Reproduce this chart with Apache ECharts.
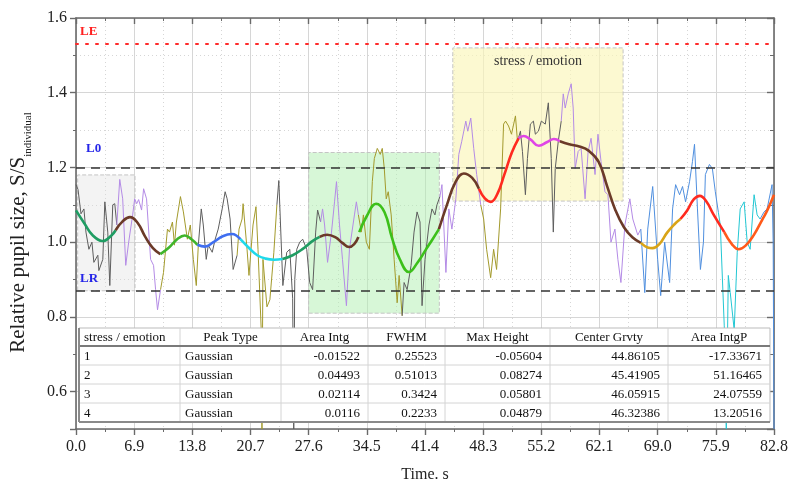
<!DOCTYPE html>
<html>
<head>
<meta charset="utf-8">
<script src="https://cdn.jsdelivr.net/npm/echarts@6/dist/echarts.min.js"></script>
<style>
html,body{margin:0;padding:0;background:#fff;}
#chart{width:791px;height:488px;}
</style>
</head>
<body>
<div id="chart"></div>
<script>
// ---------- DATA ----------
const xTickLabels = ['0.0','6.9','13.8','20.7','27.6','34.5','41.4','48.3','55.2','62.1','69.0','75.9','82.8'];
const levelLE = 1.53, levelL0 = 1.2, levelLR = 0.87;
// shaded zones: [tStart, tEnd, vLow, vHigh]
const zoneRest = [0.2, 7.0, 0.87, 1.18];
const zoneGreen = [27.6, 43.1, 0.81, 1.24];
const zoneStress = [44.7, 64.9, 1.11, 1.52];
const zoneStressLabel = 'stress / emotion';

// raw pupil signal, coloured pieces [time s, relative size]
const sigGreyA = [[0,1.154],[0.24,1.141],[0.59,1.076],[0.94,1.089],[1.18,1.027],[1.53,0.981],[1.89,1.0],[2.12,0.946],[2.59,0.965],[2.71,0.924],[3.18,0.954],[3.42,1.108],[3.77,1.027],[4.01,0.884],[4.36,1.1],[4.6,1.103],[4.84,1.046]];
const sigPurpleA = [[4.84,1.046],[5.19,1.168],[5.54,1.116],[5.9,0.938],[6.25,1.0],[6.72,1.073],[6.96,1.116],[7.2,1.103],[7.43,1.114],[7.78,1.086],[8.02,1.143],[8.37,1.116],[8.85,0.954],[9.2,0.938],[9.44,0.873],[9.67,0.819],[10.03,0.873]];
const sigOliveA = [[10.03,0.873],[10.38,0.919],[10.85,1.035],[11.09,1.027],[11.44,1.054],[11.68,0.992],[11.91,1.054],[12.39,1.122],[12.74,1.081],[13.21,1.008],[13.56,1.046],[13.92,0.954],[14.27,0.884],[14.51,0.992]];
const sigGreyB = [[14.51,0.992],[14.86,1.089],[15.1,1.046],[15.45,0.954],[15.69,0.992],[16.16,0.973],[16.51,1.008],[16.87,1.035],[17.34,1.089],[17.69,1.135],[17.93,1.116],[18.28,1.062],[18.64,0.927],[19.11,0.965]];
const sigOliveB = [[19.11,0.965],[19.34,1.035],[19.7,1.062],[19.82,1.103],[20.29,0.981],[20.52,0.911],[21.0,1.046],[21.35,1.095],[21.59,0.981],[22.0,0.75],[22.06,0.5],[22.18,0.954],[22.65,0.827],[23.0,0.846],[23.47,0.973],[23.83,1.1]];
const sigGreyC = [[23.83,1.1],[24.06,1.165],[24.54,0.884],[25.0,0.973],[25.36,0.981],[25.7,0.85],[25.83,0.5],[25.95,0.9],[26.19,0.981],[26.54,1.0],[26.89,1.008],[27.37,0.981],[27.72,0.892],[28.07,0.873],[28.43,1.027],[28.66,1.086],[29.02,1.054]];
const sigPurpleB = [[29.02,1.054],[29.25,1.089],[29.49,1.046],[29.84,0.946],[30.31,1.027],[30.67,1.108],[30.9,1.162],[31.26,1.046],[31.61,0.954],[32.08,0.83],[32.44,0.981],[33.03,1.073],[33.26,1.108],[33.5,1.073]];
const sigOliveC = [[33.5,1.073],[33.85,1.027],[34.09,1.073],[34.44,1.0],[34.8,0.981],[35.15,1.162],[35.39,1.224],[35.74,1.251],[36.09,1.235],[36.33,1.251],[36.57,1.197],[36.8,1.116],[37.04,1.135],[37.39,1.073],[37.74,0.954],[38.1,0.838],[38.33,0.911],[38.69,0.803]];
const sigGreyD = [[38.69,0.803],[38.92,0.892],[39.28,0.873],[39.75,0.938],[40.1,1.027],[40.46,1.081],[40.81,1.054],[41.05,0.83],[41.4,0.954],[41.87,1.046],[42.23,1.089],[42.58,1.073],[42.82,1.1],[43.17,1.122]];
const sigPurpleC = [[43.17,1.122],[43.41,1.154],[43.88,0.919],[44.23,1.089],[44.59,1.035],[45.06,1.116],[45.41,1.235],[45.76,1.27],[46.24,1.324],[46.47,1.297],[46.83,1.332],[47.18,1.251],[47.53,1.181],[48.01,1.1]];
const sigOliveD = [[48.01,1.1],[48.36,1.062],[48.71,0.981],[49.19,0.905],[49.54,0.981],[49.89,0.927],[50.37,1.089],[50.72,1.316],[50.96,1.324],[51.31,1.311],[51.66,1.289],[52.13,1.338],[52.37,1.27]];
const sigGreyE = [[52.37,1.27],[52.72,1.297],[52.96,1.243],[53.31,1.127],[53.55,1.224],[53.9,1.316],[54.26,1.324],[54.49,1.289],[54.85,1.297],[55.2,1.324],[55.67,1.316],[56.03,1.373],[56.38,1.224],[56.62,1.027],[56.85,1.197],[57.21,1.27],[57.56,1.324]];
const sigPurpleD = [[57.56,1.324],[57.8,1.397],[58.03,1.359],[58.39,1.397],[58.74,1.424],[58.98,1.359],[59.21,1.197],[59.57,1.243],[59.92,1.251],[60.39,1.116],[60.75,1.243],[61.1,1.278],[61.57,1.181],[61.92,1.289],[62.28,1.216],[62.75,1.135],[63.1,1.127],[63.46,1.0],[63.93,1.035],[64.28,0.954],[64.64,0.892],[65.11,1.046],[65.7,1.116],[66.05,1.062],[66.64,1.019],[67.0,1.035]];
const sigBlueA = [[67.0,1.035],[67.47,0.865],[67.82,1.035],[68.41,1.149],[69.0,0.954],[69.36,0.857],[69.83,1.0],[70.42,0.892],[70.77,1.089],[71.13,1.154],[71.6,1.127],[71.95,1.149],[72.31,1.108],[72.78,1.162],[73.13,1.216],[73.37,1.262],[73.72,1.089],[74.07,0.927],[74.43,1.0],[74.66,1.181],[75.14,1.208],[75.49,1.197],[75.84,1.135],[76.2,1.08]];
const sigCyanA = [[76.2,1.08],[76.43,1.046],[76.9,0.776],[77.14,0.5],[77.38,0.911],[77.61,0.865],[78.08,0.765],[78.44,0.973],[78.79,1.089],[79.26,1.108],[79.62,1.0],[79.97,0.981],[80.44,1.127],[80.8,1.073],[81.15,1.062]];
const sigBlueB = [[81.15,1.062],[81.62,1.081],[81.98,1.089],[82.57,1.154],[82.7,1.0],[82.8,0.5]];

// fitted smooth curve, coloured pieces
const fitGreenA = [[0,1.085],[1,1.05],[2,1.018],[3.2,1.003],[4.2,1.018],[4.7,1.032]];
const fitBrownA = [[4.7,1.032],[5.5,1.055],[6.4,1.067],[7.3,1.052],[8.2,1.015],[9.1,0.985],[10.0,0.968]];
const fitGreenB = [[10.0,0.968],[11,0.985],[12,1.008],[12.9,1.018],[13.7,1.008],[14.4,0.993]];
const fitBlueA = [[14.4,0.993],[15.3,0.988],[16.3,1.0],[17.4,1.016],[18.5,1.022],[19.5,1.008]];
const fitCyanA = [[19.5,1.008],[20.5,0.985],[21.5,0.965],[22.5,0.956],[23.5,0.953],[24.5,0.955]];
const fitGreenC = [[24.5,0.955],[25.7,0.965],[26.9,0.982],[28,1.002],[28.9,1.014]];
const fitBrownB = [[28.9,1.014],[29.8,1.02],[30.8,1.013],[31.6,0.998],[32.4,0.987],[33.0,0.995],[33.5,1.014]];
const fitGreenD = [[33.6,1.027],[34.5,1.07],[35.6,1.103],[36.6,1.08],[37.5,1.01],[38.4,0.955],[39.5,0.92],[40.5,0.945],[41.5,0.98],[42.3,1.008],[43.05,1.035]];
const fitBrownC = [[43.05,1.035],[44,1.1],[45,1.16],[46,1.184],[47,1.172],[47.8,1.143]];
const fitRedA = [[47.8,1.143],[48.5,1.117],[49.2,1.108],[50,1.13],[50.8,1.18],[51.7,1.24],[52.5,1.278]];
const fitMagentaA = [[52.5,1.278],[53.1,1.284],[53.9,1.275],[54.9,1.258],[55.9,1.268],[56.7,1.276],[57.4,1.27]];
const fitBrownD = [[57.4,1.27],[58.5,1.262],[59.7,1.256],[60.8,1.245],[62.0,1.215],[63.0,1.15],[64.0,1.085],[65.0,1.04],[66.0,1.013],[67.0,0.998]];
const fitGoldA = [[67.0,0.998],[67.8,0.986],[68.4,0.984],[69.2,0.995],[70.1,1.025],[71.0,1.048],[71.7,1.062]];
const fitRedB = [[71.7,1.062],[72.5,1.085],[73.3,1.115],[74.0,1.124],[74.8,1.108],[75.6,1.075],[76.9,1.027]];
const fitOrangeA = [[76.9,1.027],[77.8,0.995],[78.6,0.981],[79.4,0.99],[80.4,1.019],[81.4,1.06],[82.0,1.085],[82.8,1.127]];

// table
const tableHeader = ['stress / emotion','Peak Type','Area Intg','FWHM','Max Height','Center Grvty','Area IntgP'];
const rowIds = ['1','2','3','4'];
const peakTypes = ['Gaussian','Gaussian','Gaussian','Gaussian'];
const areaIntg = ['-0.01522','0.04493','0.02114','0.0116'];
const fwhm = ['0.25523','0.51013','0.3424','0.2233'];
const maxHeight = ['-0.05604','0.08274','0.05801','0.04879'];
const centerGrvty = ['44.86105','45.41905','46.05915','46.32386'];
const areaIntgP = ['-17.33671','51.16465','24.07559','13.20516'];

// ---------- STYLE ----------
const SERIF = '"Liberation Serif", "DejaVu Serif", serif';
const C = {
  sGrey:'#5e5e5e', sPurple:'#b48be6', sOlive:'#a39a2c', sBlue:'#4f8fdf', sCyan:'#22c7d3',
  fTeal:'#1f9d63', fBrown:'#6b3a28', fGreen:'#3fb52b', fBlue:'#3f6ef0', fCyan:'#1fd9ea',
  fLime:'#3cc01a', fRed:'#ff2a1f', fMag:'#e046e6', fGold:'#d9a418', fOrange:'#ff5a1a'
};

const signalPieces = [
  [sigGreyA,C.sGrey],[sigPurpleA,C.sPurple],[sigOliveA,C.sOlive],[sigGreyB,C.sGrey],
  [sigOliveB,C.sOlive],[sigGreyC,C.sGrey],[sigPurpleB,C.sPurple],[sigOliveC,C.sOlive],
  [sigGreyD,C.sGrey],[sigPurpleC,C.sPurple],[sigOliveD,C.sOlive],[sigGreyE,C.sGrey],
  [sigPurpleD,C.sPurple],[sigBlueA,C.sBlue],[sigCyanA,C.sCyan],[sigBlueB,C.sBlue]
];
const fitPieces = [
  [fitGreenA,C.fTeal],[fitBrownA,C.fBrown],[fitGreenB,C.fGreen],[fitBlueA,C.fBlue],
  [fitCyanA,C.fCyan],[fitGreenC,C.fTeal],[fitBrownB,C.fBrown],[fitGreenD,C.fLime],
  [fitBrownC,C.fBrown],[fitRedA,C.fRed],[fitMagentaA,C.fMag],[fitBrownD,C.fBrown],
  [fitGoldA,C.fGold],[fitRedB,C.fRed],[fitOrangeA,C.fOrange]
];

const series = [];
function zoneItem(z, color, label){
  return [{xAxis:z[0], yAxis:z[2], itemStyle:{color:color, borderColor:'#c4c4c4', borderType:'dashed', borderWidth:1},
           label: label ? {show:true, formatter:label, position:'insideTop', distance:7, fontFamily:SERIF, fontSize:14, color:'#333'} : {show:false}},
          {xAxis:z[1], yAxis:z[3]}];
}
series.push({
  type:'line', data:[], z:1, silent:true,
  markArea:{silent:true, data:[
    zoneItem(zoneRest,'rgba(220,220,220,0.35)'),
    zoneItem(zoneGreen,'rgba(175,240,175,0.5)'),
    zoneItem(zoneStress,'rgba(250,246,185,0.65)', zoneStressLabel)
  ]},
  markLine:{silent:true, symbol:['none','none'], data:[
    {yAxis:levelLE, lineStyle:{color:'#ff2a2a', type:[2,8], width:2, cap:'round'},
     label:{formatter:'LE', position:'insideStartTop', distance:4, padding:[0,0,2,0], color:'#ff2020', fontWeight:'bold', fontFamily:SERIF, fontSize:13}},
    {yAxis:levelL0, lineStyle:{color:'#333', type:[9,6], width:1.6},
     label:{formatter:'L0', position:'insideStartTop', distance:6, padding:[0,0,6,4], color:'#2424e8', fontWeight:'bold', fontFamily:SERIF, fontSize:13}},
    {yAxis:levelLR, lineStyle:{color:'#333', type:[9,6], width:1.6},
     label:{formatter:'LR', position:'insideStartTop', distance:4, padding:[0,0,2,0], color:'#2424e8', fontWeight:'bold', fontFamily:SERIF, fontSize:13}}
  ]}
});
signalPieces.forEach(p => series.push({
  type:'line', data:p[0], showSymbol:false, z:3, silent:true,
  lineStyle:{color:p[1], width:1}
}));
fitPieces.forEach(p => series.push({
  type:'line', data:p[0], showSymbol:false, smooth:0.45, z:5, silent:true,
  lineStyle:{color:p[1], width:2.6}
}));

// table graphic (drawn on a higher layer, above the plot)
function buildTable(){
  const edges = [79,180,281,368,445,550,668,770];
  const top = 328, headH = 18, rowH = 19;
  const cols = [rowIds, peakTypes, areaIntg, fwhm, maxHeight, centerGrvty, areaIntgP];
  const bottom = top + headH + rowH*rowIds.length;
  const left = edges[0], right = edges[edges.length-1];
  const font = '13px ' + SERIF;
  const ch = [];
  const Z = {zlevel:1, z:100};
  ch.push(Object.assign({type:'rect', shape:{x:left, y:top, width:right-left, height:bottom-top}, style:{fill:'#fff', stroke:'#bbb', lineWidth:1}}, Z));
  for (let r = 1; r < rowIds.length; r++){
    const y = top + headH + rowH*r;
    ch.push(Object.assign({type:'line', shape:{x1:left, y1:y, x2:right, y2:y}, style:{stroke:'#d4d4d4', lineWidth:1}}, Z, {z:101}));
  }
  for (let c = 1; c < edges.length-1; c++){
    ch.push(Object.assign({type:'line', shape:{x1:edges[c], y1:top, x2:edges[c], y2:bottom}, style:{stroke:'#d4d4d4', lineWidth:1}}, Z, {z:101}));
  }
  ch.push(Object.assign({type:'line', shape:{x1:left, y1:top+headH, x2:right, y2:top+headH}, style:{stroke:'#7a7a7a', lineWidth:2}}, Z, {z:102}));
  ch.push(Object.assign({type:'line', shape:{x1:left, y1:top, x2:left, y2:bottom}, style:{stroke:'#8a8a8a', lineWidth:2}}, Z, {z:102}));
  ch.push(Object.assign({type:'line', shape:{x1:left, y1:bottom, x2:right, y2:bottom}, style:{stroke:'#8a8a8a', lineWidth:2}}, Z, {z:102}));
  tableHeader.forEach((h, c) => {
    const cx = c === 0 ? edges[0] + 5 : (edges[c] + edges[c+1]) / 2;
    ch.push(Object.assign({type:'text', style:{text:h, x:cx, y:top+headH/2+1, font:font, fill:'#111', align:c===0?'left':'center', verticalAlign:'middle'}}, Z, {z:103}));
  });
  cols.forEach((col, c) => {
    col.forEach((val, r) => {
      const y = top + headH + rowH*r + rowH/2 + 1;
      const isLeft = c < 2;
      ch.push(Object.assign({type:'text', style:{text:val, x:isLeft ? edges[c]+5 : edges[c+1]-8, y:y, font:font, fill:'#111', align:isLeft?'left':'right', verticalAlign:'middle'}}, Z, {z:103}));
    });
  });
  return ch;
}

const axisColor = '#6a6a6a';
const option = {
  animation:false,
  backgroundColor:'#fff',
  grid:{left:73, right:14, top:18, bottom:59, containLabel:false},
  xAxis:[{
    type:'value', min:0, max:82.8, interval:6.9, position:'bottom',
    axisLine:{show:true, onZero:false, lineStyle:{color:axisColor, width:1.6}},
    axisTick:{show:true, length:6, lineStyle:{color:axisColor, width:1.4}},
    minorTick:{show:true, splitNumber:2, length:3, lineStyle:{color:axisColor}},
    axisLabel:{formatter:(v)=>xTickLabels[Math.round(v/6.9)], fontFamily:SERIF, fontSize:16, color:'#222', margin:10},
    splitLine:{show:true, lineStyle:{color:'#d6d6d6', width:1}},
    name:'Time. s', nameLocation:'middle', nameGap:38,
    nameTextStyle:{fontFamily:SERIF, fontSize:16, color:'#222'}
  },{
    type:'value', min:0, max:82.8, interval:6.9, position:'top',
    axisLine:{show:true, onZero:false, lineStyle:{color:axisColor, width:1.6}},
    axisTick:{show:true, inside:true, length:6, lineStyle:{color:axisColor, width:1.4}},
    minorTick:{show:true, splitNumber:2, length:3, lineStyle:{color:axisColor}},
    axisLabel:{show:false},
    splitLine:{show:false},
    minorSplitLine:{show:true, lineStyle:{color:'#d6d6d6', type:[1,3]}}
  }],
  yAxis:[{
    type:'value', min:0.5, max:1.6, splitNumber:5, position:'left',
    axisLine:{show:true, onZero:false, lineStyle:{color:axisColor, width:1.6}},
    axisTick:{show:true, length:6, lineStyle:{color:axisColor, width:1.4}},
    minorTick:{show:true, splitNumber:2, length:3, lineStyle:{color:axisColor}},
    axisLabel:{showMinLabel:false, formatter:(v)=>v.toFixed(1), fontFamily:SERIF, fontSize:16, color:'#222', margin:9},
    splitLine:{show:true, lineStyle:{color:'#d6d6d6', width:1}},
    name:'{a|Relative pupil size, S/S}{b|individual}', nameLocation:'middle', nameRotate:90, nameGap:42,
    nameTextStyle:{rich:{
      a:{fontFamily:SERIF, fontSize:21, color:'#222', lineHeight:26, verticalAlign:'top'},
      b:{fontFamily:SERIF, fontSize:11, color:'#222', lineHeight:12, verticalAlign:'bottom', padding:[0,18,0,0]}
    }}
  },{
    type:'value', min:0.5, max:1.6, splitNumber:5, position:'right',
    axisLine:{show:true, onZero:false, lineStyle:{color:axisColor, width:1.6}},
    axisTick:{show:true, inside:true, length:7, lineStyle:{color:axisColor, width:1.4}},
    minorTick:{show:true, splitNumber:2, length:4, lineStyle:{color:axisColor}},
    axisLabel:{show:false},
    splitLine:{show:false},
    minorSplitLine:{show:true, lineStyle:{color:'#d6d6d6', type:[1,3]}}
  }],
  series:series,
  graphic:{elements: buildTable()}
};

const chart = echarts.init(document.getElementById('chart'), null, {renderer:'canvas'});
chart.setOption(option);
</script>
</body>
</html>
